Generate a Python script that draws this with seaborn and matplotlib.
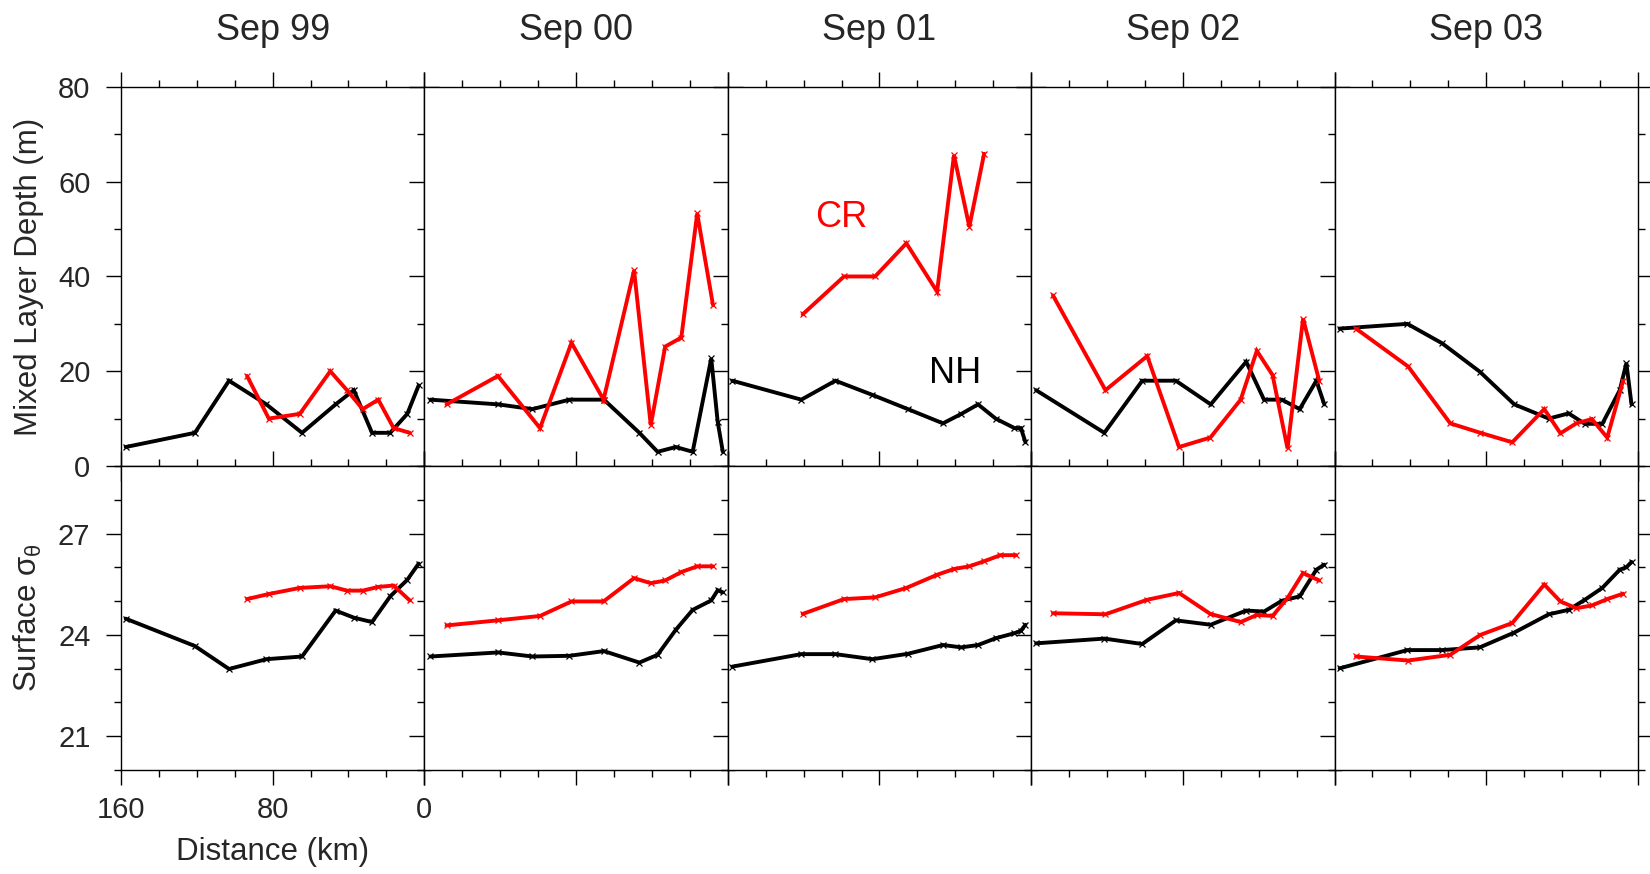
import numpy as np
import pandas as pd
import matplotlib
matplotlib.use("Agg")
import matplotlib.pyplot as plt
from matplotlib.ticker import MultipleLocator, FixedLocator
import seaborn as sns

# ---- cruise sections -------------------------------------------------------
cruises = ["Sep 99", "Sep 00", "Sep 01", "Sep 02", "Sep 03"]

# Sep 99
nh_dist_99 = [157.5, 121, 103, 83.3, 64.5, 46.8, 37.2, 27.6, 18, 9, 3]
nh_mld_99 = [4, 7, 18, 13, 7, 13, 16, 7, 7, 11, 17]
nh_sig_99 = [24.48, 23.67, 22.99, 23.28, 23.36, 24.72, 24.51, 24.38, 25.14, 25.63, 26.11]
cr_dist_99 = [93.5, 82, 65.7, 49.6, 40.8, 32.5, 24.3, 16.2, 7.7]
cr_mld_99 = [19, 10, 11, 20, 16, 12, 14, 8, 7]
cr_sig_99 = [25.06, 25.21, 25.39, 25.44, 25.31, 25.31, 25.42, 25.46, 25.02]

# Sep 00
nh_dist_00 = [156.8, 121, 103, 83.5, 65.3, 46.6, 37, 27.4, 18.5, 8.7, 5.3, 2.6]
nh_mld_00 = [14, 13, 12, 14, 14, 7, 3, 4, 3, 22.7, 9.3, 3]
nh_sig_00 = [23.36, 23.48, 23.36, 23.38, 23.52, 23.18, 23.41, 24.15, 24.74, 25.02, 25.32, 25.26]
cr_dist_00 = [148.3, 121.2, 99, 82.4, 65.5, 49.4, 40.6, 33, 24.5, 16.1, 7.8]
cr_mld_00 = [13, 19, 8, 26, 14, 41.3, 8.6, 25.2, 27.1, 53.3, 34]
cr_sig_00 = [24.28, 24.43, 24.56, 24.99, 24.99, 25.68, 25.53, 25.61, 25.86, 26.03, 26.03]

# Sep 01
nh_dist_01 = [157.6, 121.2, 103.2, 83.7, 65, 46.5, 36.8, 28, 18.7, 8.8, 5.4, 3]
nh_mld_01 = [18, 14, 18, 15, 12, 9, 11, 13, 10, 8, 8, 5]
nh_sig_01 = [23.06, 23.43, 23.43, 23.28, 23.44, 23.70, 23.63, 23.70, 23.90, 24.05, 24.12, 24.30]
cr_dist_01 = [120.5, 98.7, 82.3, 65.8, 49.6, 40.7, 32.6, 24.8, 16.2, 7.9]
cr_mld_01 = [32, 40, 40, 47, 36.8, 65.6, 50.5, 65.9, np.nan, np.nan]
cr_sig_01 = [24.62, 25.06, 25.11, 25.39, 25.78, 25.95, 26.03, 26.18, 26.36, 26.36]

# Sep 02
nh_dist_02 = [157.4, 121.4, 101.4, 83.7, 65.3, 46.6, 37.2, 27.8, 18.4, 9.6, 5.4]
nh_mld_02 = [16, 7, 18, 18, 13, 22, 14, 14, 12, 18, 13]
nh_sig_02 = [23.75, 23.89, 23.73, 24.43, 24.30, 24.72, 24.69, 25.01, 25.14, 25.93, 26.08]
cr_dist_02 = [148.5, 120.8, 98.8, 82, 65.5, 49.5, 41, 32.7, 24.8, 16.6, 8.1]
cr_mld_02 = [36, 16, 23.2, 4, 6, 14, 24.3, 19.2, 3.7, 31.1, 18]
cr_sig_02 = [24.64, 24.61, 25.04, 25.24, 24.62, 24.38, 24.59, 24.56, 25.09, 25.83, 25.61]

# Sep 03
nh_dist_03 = [157.3, 121.6, 103.3, 83.4, 65.2, 47, 36.6, 28, 18.8, 9.6, 6.1, 3.4]
nh_mld_03 = [29, 30, 25.9, 19.9, 13, 10, 11.1, 8.9, 8.9, 16, 21.7, 13]
nh_sig_03 = [23.01, 23.55, 23.55, 23.63, 24.07, 24.61, 24.74, 25.04, 25.39, 25.93, 26.00, 26.16]
cr_dist_03 = [148.7, 121.2, 99, 83.1, 66.3, 49.4, 40.9, 32.5, 24.3, 16.2, 7.8]
cr_mld_03 = [29, 21, 9, 7, 5, 12, 6.9, 9, 9.9, 6, 18]
cr_sig_03 = [23.36, 23.24, 23.41, 24.0, 24.35, 25.49, 24.99, 24.79, 24.87, 25.06, 25.22]

x_major = [0, 80, 160]
x_ticklabels = ["0", "80", "160"]
mld_ticks = [0, 20, 40, 60, 80]
sigma_ticks = [21, 24, 27]

line_colors = {"NH": "black", "CR": "#ff0000"}

# ---- long table ------------------------------------------------------------
sections = {
    "Sep 99": {"NH": (nh_dist_99, nh_mld_99, nh_sig_99), "CR": (cr_dist_99, cr_mld_99, cr_sig_99)},
    "Sep 00": {"NH": (nh_dist_00, nh_mld_00, nh_sig_00), "CR": (cr_dist_00, cr_mld_00, cr_sig_00)},
    "Sep 01": {"NH": (nh_dist_01, nh_mld_01, nh_sig_01), "CR": (cr_dist_01, cr_mld_01, cr_sig_01)},
    "Sep 02": {"NH": (nh_dist_02, nh_mld_02, nh_sig_02), "CR": (cr_dist_02, cr_mld_02, cr_sig_02)},
    "Sep 03": {"NH": (nh_dist_03, nh_mld_03, nh_sig_03), "CR": (cr_dist_03, cr_mld_03, cr_sig_03)},
}
frames = []
for cruise, lines in sections.items():
    for name, (d, m, s) in lines.items():
        frames.append(pd.DataFrame({"cruise": cruise, "line": name,
                                    "dist": d, "mld": m, "sigma": s}))
df = pd.concat(frames, ignore_index=True)

# ---- style -----------------------------------------------------------------
sns.set_style("ticks")
plt.rcParams["font.family"] = ["Liberation Sans", "DejaVu Sans"]
plt.rcParams["mathtext.fontset"] = "custom"
plt.rcParams["mathtext.rm"] = "Liberation Sans"
plt.rcParams["mathtext.it"] = "Liberation Sans:italic"
plt.rcParams["axes.linewidth"] = 1.0

fig, axes = plt.subplots(2, 5, figsize=(16.5, 8.74), dpi=100, sharex=True,
                         gridspec_kw={"height_ratios": [379, 304],
                                      "wspace": 0, "hspace": 0})
fig.subplots_adjust(left=0.0733, right=0.9927, top=0.9005, bottom=0.119)

line_kw = dict(lw=2.8, marker="x", markersize=4, markeredgewidth=0.9,
               estimator=None, sort=False, legend=False,
               solid_joinstyle="miter")

for col, cruise in enumerate(cruises):
    ax_top, ax_bot = axes[0, col], axes[1, col]
    for name in ["NH", "CR"]:
        sub = df[(df["cruise"] == cruise) & (df["line"] == name)]
        c = line_colors[name]
        top = sub.dropna(subset=["mld"])
        sns.lineplot(data=top, x="dist", y="mld", ax=ax_top, color=c,
                     markeredgecolor=c, **line_kw)
        sns.lineplot(data=sub, x="dist", y="sigma", ax=ax_bot, color=c,
                     markeredgecolor=c, **line_kw)

    ax_top.set_ylim(0, 80)
    ax_top.yaxis.set_major_locator(FixedLocator(mld_ticks))
    ax_top.yaxis.set_minor_locator(MultipleLocator(10))
    ax_bot.set_ylim(20, 29)
    ax_bot.yaxis.set_major_locator(FixedLocator(sigma_ticks))
    ax_bot.yaxis.set_minor_locator(MultipleLocator(1))

    for ax in (ax_top, ax_bot):
        ax.set_xlabel("")
        ax.set_ylabel("")
        for sp in ax.spines.values():
            sp.set_visible(True)
            sp.set_linewidth(1.0)
            sp.set_color("black")
        ax.tick_params(which="both", direction="out", top=True, right=True,
                       bottom=True, left=True, labelbottom=False,
                       labelleft=False, width=1.0, color="black",
                       labelsize=21)
        ax.tick_params(which="major", length=11)
        ax.tick_params(which="minor", length=5.3)

    # column heading
    pos = ax_top.get_position()
    fig.text((pos.x0 + pos.x1) / 2, 1 - 39.5 / 874, cruise,
             ha="center", va="baseline", fontsize=26)

axes[0, 0].set_xlim(160, 0)
axes[0, 0].xaxis.set_major_locator(FixedLocator(x_major))
axes[0, 0].xaxis.set_minor_locator(MultipleLocator(20))

axes[0, 0].tick_params(axis="y", labelleft=True, pad=11)
axes[1, 0].tick_params(axis="y", labelleft=True, pad=11)
axes[1, 0].tick_params(axis="x", labelbottom=True, pad=8)
axes[1, 0].set_xticks(x_major)
axes[1, 0].set_xticklabels(x_ticklabels)

axes[0, 0].set_ylabel("Mixed Layer Depth (m)", fontsize=22.5)
axes[0, 0].yaxis.set_label_coords(-0.255, 0.5)
axes[1, 0].set_ylabel("Surface σ$_{\\mathrm{θ}}$", fontsize=22.5)
axes[1, 0].yaxis.set_label_coords(-0.255, 0.5)
axes[1, 0].set_xlabel("Distance (km)", fontsize=22.5)
axes[1, 0].xaxis.set_label_coords(0.5, -0.222)

# line labels
axes[0, 2].text(100, 52.5, "CR", color=line_colors["CR"], fontsize=26,
                ha="center", va="center")
axes[0, 2].text(40, 19.5, "NH", color=line_colors["NH"], fontsize=26,
                ha="center", va="center")

fig.savefig("out.png", dpi=100)
